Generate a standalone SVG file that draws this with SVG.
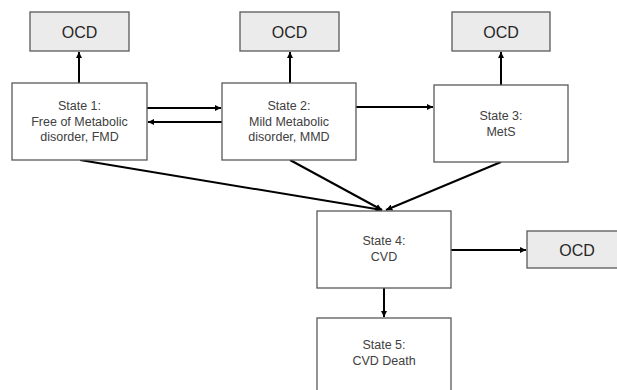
<svg xmlns="http://www.w3.org/2000/svg" width="617" height="390" viewBox="0 0 617 390">
<style>
.box{fill:#ffffff;stroke:#595959;stroke-width:1.3}
.ocd{fill:#ebebeb;stroke:#595959;stroke-width:1.3}
.t{font-family:"Liberation Sans",Arial,sans-serif;font-size:12.5px;fill:#404040;text-anchor:middle}
.to{font-family:"Liberation Sans",Arial,sans-serif;font-size:16px;fill:#262626;text-anchor:middle}
.c{stroke:#000;stroke-width:2;fill:none;marker-end:url(#ah)}
</style>
<defs>
<marker id="ah" viewBox="0 0 10 10" refX="10" refY="5" markerWidth="3.2" markerHeight="3.2" markerUnits="strokeWidth" orient="auto">
<path d="M0,0 L10,5 L0,10 z" fill="#000"/>
</marker>
</defs>
<rect width="617" height="390" fill="#fff"/>
<g id="connectors">
<line class="c" x1="79" y1="83" x2="79" y2="52"/>
<line class="c" x1="290" y1="83" x2="290" y2="52"/>
<line class="c" x1="501" y1="85" x2="501" y2="52"/>
<line class="c" x1="147" y1="108" x2="221" y2="108"/>
<line class="c" x1="222" y1="122" x2="148" y2="122"/>
<line class="c" x1="356" y1="107" x2="433" y2="107"/>
<line class="c" x1="80" y1="160" x2="382" y2="210"/>
<line class="c" x1="290" y1="160" x2="382" y2="210"/>
<line class="c" x1="501" y1="162" x2="386" y2="210"/>
<line class="c" x1="384" y1="288" x2="384" y2="317"/>
<line class="c" x1="451" y1="250" x2="526" y2="250"/>
</g>
<g id="ocd1"><rect class="ocd" x="30" y="12" width="99" height="39"/><text class="to" x="79.5" y="37.5">OCD</text></g>
<g id="ocd2"><rect class="ocd" x="240" y="12" width="99" height="39"/><text class="to" x="289.5" y="37.5">OCD</text></g>
<g id="ocd3"><rect class="ocd" x="452" y="12" width="98" height="39"/><text class="to" x="501" y="37.5">OCD</text></g>
<g id="ocd4"><rect class="ocd" x="527" y="231" width="95" height="37"/><text class="to" x="577" y="255.5">OCD</text></g>
<g id="state1"><rect class="box" x="12" y="83" width="135" height="77"/>
<text class="t" x="79.5" y="110">State 1:</text><text class="t" x="79.5" y="125.5">Free of Metabolic</text><text class="t" x="79.5" y="141">disorder, FMD</text></g>
<g id="state2"><rect class="box" x="222" y="83" width="134" height="77"/>
<text class="t" x="289" y="110">State 2:</text><text class="t" x="289" y="125.5">Mild Metabolic</text><text class="t" x="289" y="141">disorder, MMD</text></g>
<g id="state3"><rect class="box" x="434" y="85" width="134" height="77"/>
<text class="t" x="501" y="120">State 3:</text><text class="t" x="501" y="136">MetS</text></g>
<g id="state4"><rect class="box" x="317" y="211" width="134" height="77"/>
<text class="t" x="384" y="245">State 4:</text><text class="t" x="384" y="261">CVD</text></g>
<g id="state5"><rect class="box" x="317" y="318" width="134" height="80"/>
<text class="t" x="384" y="349">State 5:</text><text class="t" x="384" y="365">CVD Death</text></g>
</svg>
